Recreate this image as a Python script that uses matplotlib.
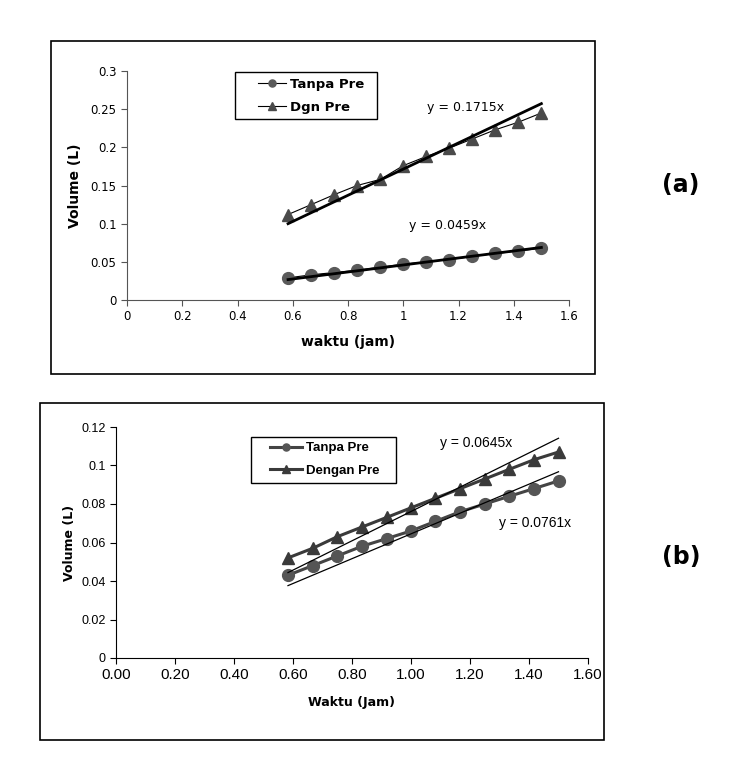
import matplotlib.pyplot as plt
from matplotlib.patches import Rectangle

# waktu (jam), every 5 minutes from 35 to 90 min
waktu = [0.583, 0.667, 0.75, 0.833, 0.917, 1.0, 1.083, 1.167, 1.25, 1.333, 1.417, 1.5]

# (a)
a_tanpa = [0.029, 0.033, 0.036, 0.039, 0.043, 0.047, 0.050, 0.053, 0.057, 0.061, 0.064, 0.068]
a_dgn = [0.112, 0.125, 0.138, 0.150, 0.158, 0.176, 0.188, 0.199, 0.211, 0.223, 0.233, 0.245]
a_slopes = [0.0459, 0.1715]

# (b)
b_tanpa = [0.043, 0.048, 0.053, 0.058, 0.062, 0.066, 0.071, 0.076, 0.080, 0.084, 0.088, 0.092]
b_dengan = [0.052, 0.057, 0.063, 0.068, 0.073, 0.078, 0.083, 0.088, 0.093, 0.098, 0.103, 0.107]
b_slopes = [0.0645, 0.0761]

W, H = 743, 772
fig = plt.figure(figsize=(W / 100, H / 100), dpi=100)

def px_rect(x0, y0, x1, y1):
    return [x0 / W, 1 - y1 / H, (x1 - x0) / W, (y1 - y0) / H]

def box(x0, y0, x1, y1, lw=1.2):
    fig.patches.append(Rectangle((x0 / W, 1 - y1 / H), (x1 - x0) / W, (y1 - y0) / H,
                                 transform=fig.transFigure, fill=False,
                                 edgecolor='black', linewidth=lw, zorder=5))

# outer frames
box(51, 41, 595, 374)
box(40, 403, 604, 740)
# legend boxes
box(235, 72, 377, 119, lw=1)
box(251, 437, 396, 483, lw=1)

x_fit = [waktu[0], waktu[-1]]

# ---------- (a) ----------
ax = fig.add_axes(px_rect(127, 71, 569, 300))
ax.plot(waktu, a_tanpa, color='black', lw=0.8, marker='o', ms=8.5,
        mfc='#5a5a5a', mec='#5a5a5a', label='Tanpa Pre')
ax.plot(waktu, a_dgn, color='black', lw=0.8, marker='^', ms=9,
        mfc='#4a4a4a', mec='#4a4a4a', label='Dgn Pre')
for s in a_slopes:
    ax.plot(x_fit, [s * x for x in x_fit], color='black', lw=2)
ax.text(1.225, 0.2525, 'y = 0.1715x', ha='center', va='center', fontsize=9)
ax.text(1.159, 0.0972, 'y = 0.0459x', ha='center', va='center', fontsize=9)
ax.set_xlim(0, 1.6)
ax.set_ylim(0, 0.3)
ax.set_xticks([0, 0.2, 0.4, 0.6, 0.8, 1, 1.2, 1.4, 1.6])
ax.set_xticklabels(['0', '0.2', '0.4', '0.6', '0.8', '1', '1.2', '1.4', '1.6'])
ax.set_yticks([0, 0.05, 0.1, 0.15, 0.2, 0.25, 0.3])
ax.set_yticklabels(['0', '0.05', '0.1', '0.15', '0.2', '0.25', '0.3'])
ax.tick_params(direction='out', length=4, labelsize=8.5, color='#555555')
for sp in ['top', 'right']:
    ax.spines[sp].set_visible(False)
for sp in ['left', 'bottom']:
    ax.spines[sp].set_color('#555555')
ax.set_xlabel('waktu (jam)', fontsize=10, fontweight='bold', labelpad=8)
ax.set_ylabel('Volume (L)', fontsize=10, fontweight='bold', labelpad=6)
ax.legend(loc='upper left', bbox_to_anchor=(258 / W, 1 - 78 / H),
          bbox_transform=fig.transFigure, borderaxespad=0, borderpad=0,
          prop={'weight': 'bold', 'size': 9.5}, frameon=False,
          handlelength=2.1, markerscale=0.6, labelspacing=0.75, handletextpad=0.3)

# ---------- (b) ----------
bx = fig.add_axes(px_rect(116, 427, 588, 658))
bx.plot(waktu, b_tanpa, color='#444444', lw=2.2, marker='o', ms=8.5,
        mfc='#555555', mec='#555555', label='Tanpa Pre')
bx.plot(waktu, b_dengan, color='#3a3a3a', lw=2.2, marker='^', ms=9,
        mfc='#3a3a3a', mec='#3a3a3a', label='Dengan Pre')
for s in b_slopes:
    bx.plot(x_fit, [s * x for x in x_fit], color='black', lw=0.9)
bx.text(1.221, 0.1115, 'y = 0.0645x', ha='center', va='center', fontsize=10,
        family='Liberation Sans')
bx.text(1.421, 0.0701, 'y = 0.0761x', ha='center', va='center', fontsize=10,
        family='Liberation Sans')
bx.set_xlim(0, 1.6)
bx.set_ylim(0, 0.12)
bx.set_xticks([0, 0.2, 0.4, 0.6, 0.8, 1.0, 1.2, 1.4, 1.6])
bx.set_xticklabels(['%.2f' % v for v in [0, 0.2, 0.4, 0.6, 0.8, 1.0, 1.2, 1.4, 1.6]],
                   fontsize=11, family='Liberation Sans')
bx.set_yticks([0, 0.02, 0.04, 0.06, 0.08, 0.1, 0.12])
bx.set_yticklabels(['0', '0.02', '0.04', '0.06', '0.08', '0.1', '0.12'],
                   fontsize=9, family='Liberation Sans')
bx.tick_params(direction='out', length=4)
for sp in ['top', 'right']:
    bx.spines[sp].set_visible(False)
bx.set_xlabel('Waktu (Jam)', fontsize=9, fontweight='bold', labelpad=10)
bx.set_ylabel('Volume (L)', fontsize=9, fontweight='bold', labelpad=4)
bx.legend(loc='upper left', bbox_to_anchor=(270 / W, 1 - 442 / H),
          bbox_transform=fig.transFigure, borderaxespad=0, borderpad=0,
          prop={'weight': 'bold', 'size': 9.5, 'family': 'Liberation Sans'},
          frameon=False, handlelength=2.4, markerscale=0.6, labelspacing=0.8,
          handletextpad=0.3)

fig.text(681 / W, 1 - 185 / H, '(a)', fontsize=17, fontweight='bold', ha='center', va='center')
fig.text(681 / W, 1 - 557 / H, '(b)', fontsize=17, fontweight='bold', ha='center', va='center')

fig.savefig('out.png', dpi=100)
